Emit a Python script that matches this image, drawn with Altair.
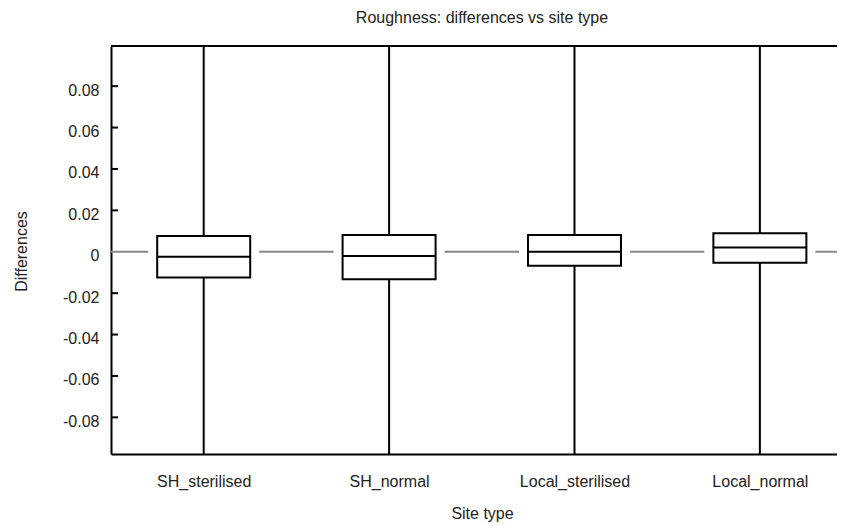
import json
import altair as alt
import pandas as pd

# ---- data ----
sites = ["SH_sterilised", "SH_normal", "Local_sterilised", "Local_normal"]
q1 = [-0.0124, -0.0133, -0.0068, -0.0053]
median = [-0.0024, -0.0021, 0.0, 0.0021]
q3 = [0.0076, 0.0081, 0.0081, 0.0089]
whisker_low = [-0.14, -0.14, -0.13, -0.13]
whisker_high = [0.13, 0.13, 0.13, 0.14]
y_ticks = [-0.08, -0.06, -0.04, -0.02, 0, 0.02, 0.04, 0.06, 0.08]
inner_ticks = [-0.08, -0.06, -0.04, -0.02, 0.02, 0.04, 0.06, 0.08]
y_domain = [-0.0977, 0.0994]
x_domain = [0.5, 4.416]
zero_ref = [0.0]

FONT = "Liberation Sans"
TXT = "#222222"

df = pd.DataFrame({
    "site": sites,
    "pos": list(range(1, len(sites) + 1)),
    "q1": q1,
    "median": median,
    "q3": q3,
    "lo": whisker_low,
    "hi": whisker_high,
})
ticks_df = pd.DataFrame({"t": inner_ticks})
zero_df = pd.DataFrame({"z": zero_ref})

label_expr = json.dumps(sites) + "[datum.value - 1]"

xscale = alt.Scale(domain=x_domain, nice=False, zero=False, padding=0)
yscale = alt.Scale(domain=y_domain, nice=False, zero=False, padding=0)

x_axis = alt.Axis(
    values=list(range(1, len(sites) + 1)), labelExpr=label_expr, ticks=False,
    grid=False, domainColor="black", domainWidth=2, labelFont=FONT,
    labelFontSize=16, labelColor=TXT, labelPadding=19, labelBaseline="top",
    title="Site type", titleFont=FONT, titleFontSize=16, titleFontWeight="normal",
    titleColor=TXT, titleX=371, titleY=64, titleAlign="center",
    titleBaseline="alphabetic",
)
y_axis = alt.Axis(
    values=y_ticks, ticks=False, grid=False, domainColor="black", domainWidth=2,
    labelExpr="datum.value == 0 ? '0' : (datum.value < 0 ? '-' : '') + format(abs(datum.value), '.2f')",
    labelFont=FONT, labelFontSize=16, labelColor=TXT, labelPadding=12,
    labelOffset=4, labelBaseline="middle",
    title="Differences", titleFont=FONT, titleFontSize=16, titleFontWeight="normal",
    titleColor=TXT, titleX=-90, titleY=205, titleAngle=-90, titleAlign="center",
    titleBaseline="middle",
)


def X(field):
    return alt.X(field, type="quantitative", scale=xscale, axis=x_axis)


def Y(field):
    return alt.Y(field, type="quantitative", scale=yscale, axis=y_axis)


base = alt.Chart(df)

zero_line = alt.Chart(zero_df).mark_rule(color="#888888", strokeWidth=1.8).encode(
    y=Y("z")
)

inner = alt.Chart(ticks_df).mark_rule(color="black", strokeWidth=2).encode(
    y=Y("t"), x=alt.value(0), x2=alt.value(7)
)

top_frame = alt.Chart(zero_df).mark_rule(color="black", strokeWidth=2).encode(
    y=alt.value(0)
)

backing = base.mark_bar(size=111, color="white").encode(
    x=X("pos"), y=Y("q1"), y2="q3:Q",
)

whiskers = base.mark_rule(color="black", strokeWidth=2, clip=True).encode(
    x=X("pos"), y=Y("lo"), y2="hi:Q",
)

boxes = base.mark_bar(size=93, fill="white", stroke="black", strokeWidth=2).encode(
    x=X("pos"), y=Y("q1"), y2="q3:Q",
)

medians = base.mark_tick(orient="horizontal", size=93, thickness=2, color="black", opacity=1).encode(
    x=X("pos"), y=Y("median"),
)

chart = alt.layer(zero_line, inner, backing, whiskers, boxes, medians, top_frame).properties(
    width=726,
    height=408,
    autosize=alt.AutoSizeParams(type="none"),
    padding={"left": 103, "top": 38, "right": 0, "bottom": 68},
    title=alt.TitleParams(
        "Roughness: differences vs site type", font=FONT, fontSize=16,
        fontWeight="normal", color=TXT, anchor="middle", frame="group",
        offset=19, dx=8,
    ),
    background="white",
).configure_view(stroke=None)

chart.save("out.html", embed_options={"renderer": "svg", "actions": False})
